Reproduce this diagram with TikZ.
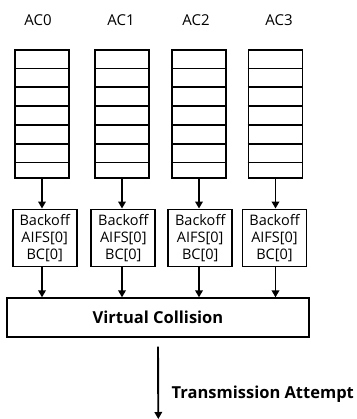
\documentclass[tikz,border=0pt]{standalone}
\usepackage{fontspec}
\setmainfont{Open Sans}
\usetikzlibrary{arrows.meta}
\tikzstyle{frame}=[line width=1.9pt]
\tikzstyle{flow}=[-{Triangle[length=7pt,width=7.5pt]}, line width=1.9pt]
\tikzstyle{backoffbox}=[draw, frame, minimum width=64pt, minimum height=57pt, inner sep=0pt, align=center, font=\fontsize{14.5}{17}\selectfont]
\newcommand{\drawqueue}[4]{% Syntax: {name}{center x}{label x}{label}
	\node[draw, frame, minimum width=54pt, minimum height=128pt, inner sep=0pt] (#1) at (#2,114) {};
	\foreach \y in {68.5,87,106,125,144,162.5}
		\draw[frame] (#1.west |- 0,\y) -- (#1.east |- 0,\y);
	\node[font=\fontsize{15}{17}\selectfont] (#1label) at (#3,20) {#4};
}

\begin{document}
\begin{tikzpicture}[x=1pt,y=-1pt]
	\useasboundingbox (0,0) rectangle (356,419);
	% one queue per access category
	\drawqueue{q0}{42}{38}{AC0}
	\drawqueue{q1}{122}{121}{AC1}
	\drawqueue{q2}{199}{196}{AC2}
	\drawqueue{q3}{275.5}{279}{AC3}
	% backoff entities
	\node[backoffbox] (b0) at (44.7,238) {Backoff\\AIFS[0]\\BC[0]};
	\node[backoffbox] (b1) at (123.3,238) {Backoff\\AIFS[0]\\BC[0]};
	\node[backoffbox] (b2) at (200.2,238) {Backoff\\AIFS[0]\\BC[0]};
	\node[backoffbox] (b3) at (274.5,238) {Backoff\\AIFS[0]\\BC[0]};
	\node[draw, frame, minimum width=302.6pt, minimum height=38.4pt, inner sep=0pt, font=\fontsize{16.5}{18}\selectfont\bfseries] (vc) at (158,317.5) {Virtual Collision};
	\foreach \i in {0,1,2,3} {
		\draw[flow] (q\i.south) -- (q\i.south |- b\i.north);
		\draw[flow] (q\i.south |- b\i.south) -- (q\i.south |- vc.north);
	}
	%\draw[help lines] (0,0) grid[step=10] (356,419); % debug
	\coordinate (tx) at (158.3,419);
	\draw[flow] ([yshift=-9pt]vc.south) -- (tx);
	\node[anchor=west, inner sep=0pt, font=\fontsize{16.5}{18}\selectfont\bfseries] (txlabel) at (171.5,394) {Transmission Attempt};
\end{tikzpicture}
\end{document}
